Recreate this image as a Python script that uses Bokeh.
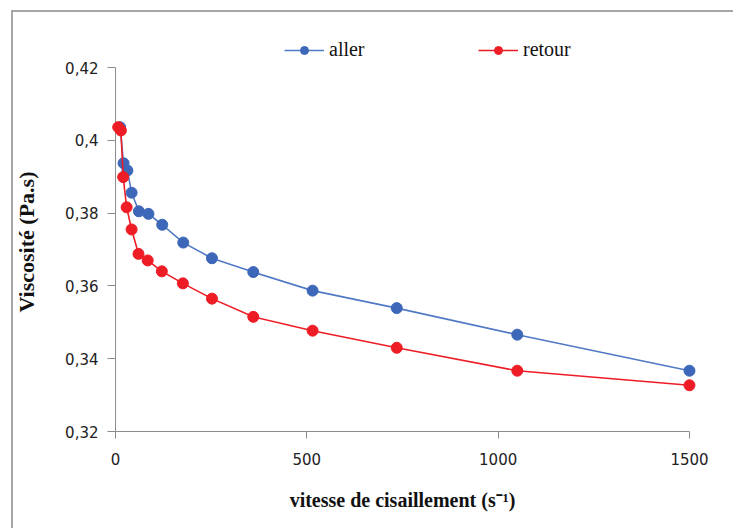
from bokeh.plotting import figure
from bokeh.models import FixedTicker, Legend, LegendItem, Range1d, InlineStyleSheet
from bokeh.embed import file_html
from bokeh.resources import INLINE

aller_x = [12, 21, 31, 42, 61, 86, 122, 177, 252, 360, 515, 735, 1050, 1500]
aller_y = [0.4036, 0.3937, 0.3917, 0.3856, 0.3805, 0.3798, 0.3768, 0.3719, 0.3676, 0.3638, 0.3587, 0.3539, 0.3466, 0.3367]
retour_x = [7, 14, 20, 29, 42, 60, 84, 121, 176, 252, 360, 515, 735, 1050, 1500]
retour_y = [0.4036, 0.4027, 0.3899, 0.3816, 0.3755, 0.3688, 0.3670, 0.3640, 0.3607, 0.3565, 0.3515, 0.3477, 0.3430, 0.3367, 0.3327]
y_ticks = [0.32, 0.34, 0.36, 0.38, 0.40, 0.42]
y_tick_labels = ["0,32", "0,34", "0,36", "0,38", "0,4", "0,42"]
x_ticks = [0, 500, 1000, 1500]

BLUE_LINE = "#5079C6"
BLUE_DOT = "#3D67B8"
RED = "#EE1C25"
AXIS = "#8C8C8C"

p = figure(width=733, height=528, output_backend="svg", toolbar_location=None,
           x_range=Range1d(-21, 1521), y_range=Range1d(0.32, 0.430165),
           min_border_left=107, min_border_right=36, min_border_top=30, min_border_bottom=97)
p.grid.visible = False
p.outline_line_color = None

# y axis line drawn at x = 0 (the frame extends a little left of 0 so markers are not clipped)
p.segment(x0=[x_ticks[0]], y0=[y_ticks[0]], x1=[x_ticks[0]], y1=[y_ticks[-1]],
          line_color=AXIS, line_width=1)

bl = p.line(aller_x, aller_y, line_color=BLUE_LINE, line_width=1.6)
bs = p.scatter(aller_x, aller_y, size=11, fill_color=BLUE_DOT, line_color=BLUE_DOT)
rl = p.line(retour_x, retour_y, line_color=RED, line_width=1.6)
rs = p.scatter(retour_x, retour_y, size=11, fill_color=RED, line_color=RED)

for ax in (p.xaxis, p.yaxis):
    ax.axis_line_color = AXIS
    ax.major_tick_line_color = AXIS
    ax.minor_tick_line_color = None
    ax.major_label_text_font = "DejaVu Sans"
    ax.major_label_text_font_size = "15px"
    ax.major_label_text_color = "#222222"
    ax.axis_label_text_font = "Liberation Serif"
    ax.axis_label_text_font_style = "bold"
    ax.axis_label_text_color = "#111111"

p.yaxis.ticker = FixedTicker(ticks=y_ticks)
p.yaxis.major_label_overrides = {t: l for t, l in zip(y_ticks, y_tick_labels)}
p.yaxis.axis_line_color = None
p.yaxis.major_tick_out = 0
p.yaxis.major_tick_in = 8
p.yaxis.major_label_standoff = 9
p.yaxis.axis_label = "Viscosité (Pa.s)\u00a0\u00a0\u00a0\u00a0"
p.yaxis.axis_label_text_font_size = "22px"
p.yaxis.axis_label_standoff = 23
p.yaxis.bounds = (y_ticks[0], y_ticks[-1])

p.xaxis.ticker = FixedTicker(ticks=x_ticks)
p.xaxis.major_tick_out = 7
p.xaxis.major_tick_in = 0
p.xaxis.major_label_standoff = 14
p.xaxis.axis_label = "vitesse de cisaillement (s\u207b\u00b9)"
p.xaxis.axis_label_text_font_size = "20px"
p.xaxis.axis_label_standoff = 21
p.xaxis.bounds = (x_ticks[0], x_ticks[-1])

legend = Legend(items=[LegendItem(label="aller", renderers=[bl, bs]),
                       LegendItem(label="retour", renderers=[rl, rs])],
                orientation="horizontal", location=(177, 370),
                glyph_width=40, glyph_height=20, label_standoff=5, label_width=120,
                spacing=29, padding=0, margin=0,
                border_line_color=None, background_fill_alpha=0,
                label_text_font="Liberation Serif", label_text_font_size="20px",
                label_text_color="#111111")
p.add_layout(legend, "center")

p.stylesheets = [InlineStyleSheet(css=(
    ":host::after { content: ''; position: absolute; left: 11px; top: 10px; "
    "right: 0; bottom: 0; border-left: 2px solid #A6A6A6; border-top: 2px solid #A6A6A6; "
    "pointer-events: none; }"))]

open("out.html", "w").write(file_html(p, INLINE))
